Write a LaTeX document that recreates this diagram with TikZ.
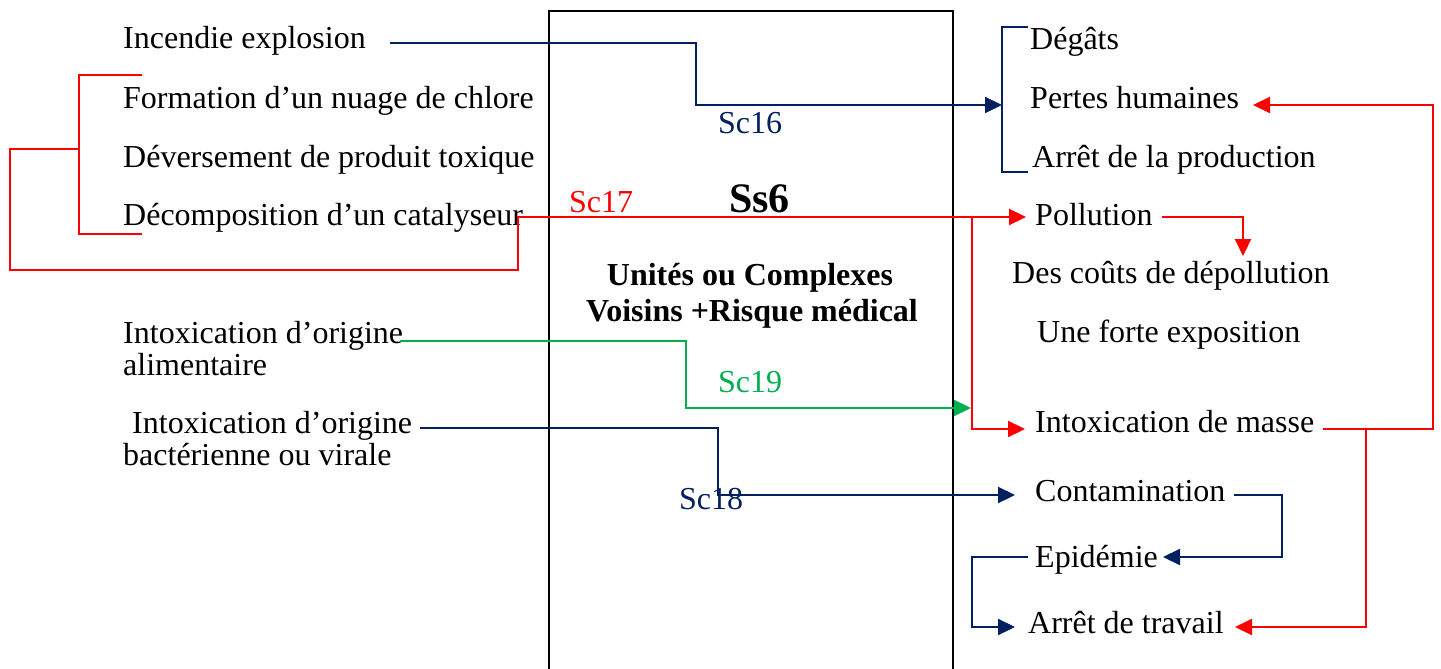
\documentclass[tikz,border=0pt]{standalone}
\usepackage{fontspec}
\setmainfont{Liberation Serif}
\usetikzlibrary{arrows.meta}
\definecolor{navy}{HTML}{002060}
\definecolor{rred}{HTML}{FF0000}
\definecolor{ggreen}{HTML}{00B050}
\begin{document}
\begin{tikzpicture}[x=1pt,y=1pt,
  lbl/.style={anchor=base west, inner sep=0pt, font=\fontsize{32}{32}\selectfont},
  boldlbl/.style={anchor=base, inner sep=0pt, font=\bfseries\fontsize{32}{36}\selectfont},
  conn/.style={line width=2.2pt},
  tip/.style={-{Triangle[length=17pt,width=16pt]}}]
\useasboundingbox (0,0) rectangle (1441,-669);
% central box
\node (box) [draw, line width=1.8pt, anchor=north west, minimum width=404pt, minimum height=680pt, inner sep=0pt] at (548,-10) {};
\node (ss6) [anchor=base west, inner sep=0pt, font=\bfseries\fontsize{42}{42}\selectfont] at (729,-212) {Ss6};
\node (u1) [boldlbl] at (750,-285) {Unités ou Complexes};
\node (u2) [boldlbl] at (752,-321) {Voisins +Risque médical};
% left texts
\node (l1) [lbl] at (123,-49) {Incendie explosion};
\node (l2) [lbl] at (123,-108) {Formation d’un nuage de chlore};
\node (l3) [lbl] at (123,-167) {Déversement de produit toxique};
\node (l4) [lbl] at (123,-225) {Décomposition d’un catalyseur};
\node (l5) [lbl] at (123,-343) {Intoxication d’origine};
\node (l5b) [lbl] at (123,-375) {alimentaire};
\node (l6) [lbl] at (132,-433) {Intoxication d’origine};
\node (l6b) [lbl] at (123,-465) {bactérienne ou virale};
% right texts
\node (r1) [lbl] at (1030,-50) {Dégâts};
\node (r2) [lbl] at (1030,-108) {Pertes humaines};
\node (r3) [lbl] at (1032,-167) {Arrêt de la production};
\node (r4) [lbl] at (1035,-225) {Pollution};
\node (r5) [lbl] at (1012,-283) {Des coûts de dépollution};
\node (r6) [lbl] at (1037,-342) {Une forte exposition};
\node (r7) [lbl] at (1035,-432) {Intoxication de masse};
\node (r8) [lbl] at (1035,-501) {Contamination};
\node (r9) [lbl] at (1035,-567) {Epidémie};
\node (r10) [lbl] at (1028,-633) {Arrêt de travail};
% scenario labels
\node (sc16) [lbl, text=navy] at (718,-133) {Sc16};
\node (sc17) [lbl, text=rred] at (569,-212) {Sc17};
\node (sc19) [lbl, text=ggreen] at (718,-392) {Sc19};
\node (sc18) [lbl, text=navy] at (679,-509) {Sc18};
% coordinates
\coordinate (a1) at (390,-43);
\coordinate (a2) at (1002,-105);
\coordinate (bt) at (1028,-27);
\coordinate (bb) at (1028,-172);
\coordinate (lt) at (142,-75);
\coordinate (lb) at (142,-234);
\coordinate (lm) at (79,-149);
\coordinate (pol) at (1026,-217);
\coordinate (mas) at (1025,-429);
\coordinate (polo) at (1162,-217);
\coordinate (cout) at (1243,-256);
\coordinate (maso) at (1323,-429);
\coordinate (pert) at (1253,-105);
\coordinate (trv) at (1235,-627);
\coordinate (g1) at (400,-341);
\coordinate (g2) at (971,-408);
\coordinate (b1) at (420,-428);
\coordinate (b2) at (1015,-495);
\coordinate (cono) at (1234,-495);
\coordinate (epi) at (1163,-557);
\coordinate (epio) at (1028,-557);
\coordinate (trv2) at (1015,-627);
% Sc16
\draw[conn, navy, tip] (a1) -| (696,-105) -- (a2);
\draw[conn, navy] (bt) -- (1002,-27) -- (1002,-172) -- (bb);
% Sc17
\draw[conn, rred] (lt) -- (79,-75) -- (79,-234) -- (lb);
\draw[conn, rred, tip] (lm) -- (10,-149) -- (10,-270) -- (518,-270) -- (518,-217) -- (pol);
\draw[conn, rred, tip] (972,-217) -- (972,-429) -- (mas);
\draw[conn, rred, tip] (polo) -- (1243,-217) -- (cout);
\draw[conn, rred, tip] (maso) -- (1433,-429) -- (1433,-105) -- (pert);
\draw[conn, rred, tip] (1366,-429) -- (1366,-627) -- (trv);
% Sc19
\draw[conn, ggreen, tip] (g1) -- (686,-341) -- (686,-408) -- (g2);
% Sc18
\draw[conn, navy, tip] (b1) -- (718,-428) -- (718,-495) -- (b2);
\draw[conn, navy, tip] (cono) -- (1282,-495) -- (1282,-557) -- (epi);
\draw[conn, navy, tip] (epio) -- (972,-557) -- (972,-627) -- (trv2);
\end{tikzpicture}
\end{document}
